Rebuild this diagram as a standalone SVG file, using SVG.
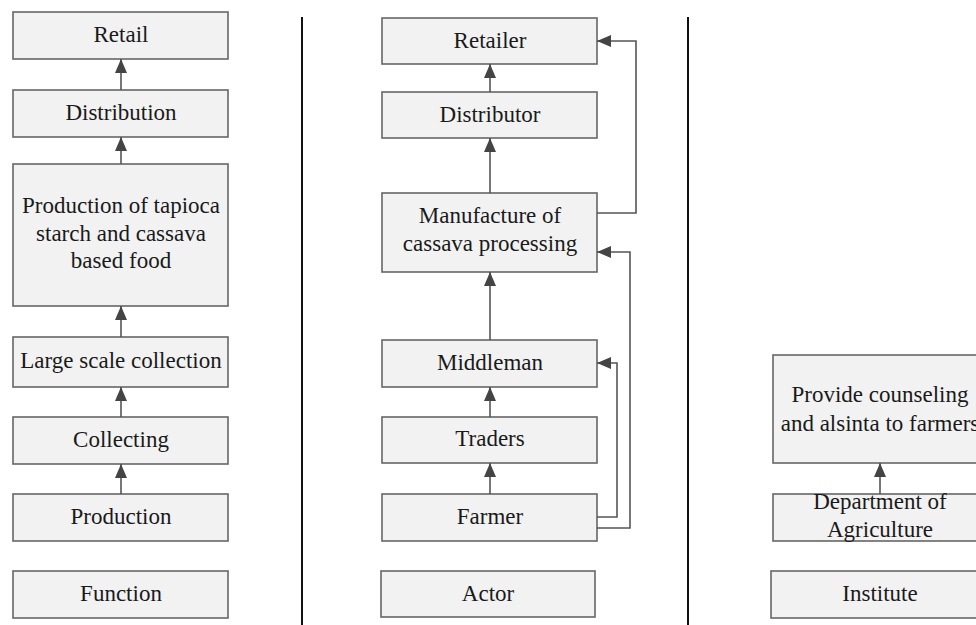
<svg xmlns="http://www.w3.org/2000/svg" width="976" height="625" viewBox="0 0 976 625">
<style>
.box{fill:#f2f2f2;stroke:#666;stroke-width:1.6}
.t{font-family:"Liberation Serif","Times New Roman",serif;font-size:23px;fill:#1a1a1a;text-anchor:middle}
.c{fill:none;stroke:#555;stroke-width:1.6}
.sep{stroke:#111;stroke-width:2}
</style>
<defs>
<marker id="ah" markerUnits="userSpaceOnUse" markerWidth="16" markerHeight="16" viewBox="0 0 16 16" refX="15" refY="8" orient="auto">
<path d="M1,2 L15,8 L1,14 Z" fill="#444"/>
</marker>
</defs>
<line class="sep" x1="302" y1="17" x2="302" y2="625"/>
<line class="sep" x1="688" y1="17" x2="688" y2="625"/>
<g id="retail"><rect class="box" x="13" y="12" width="215" height="47"/><text class="t" x="121" y="42">Retail</text></g>
<g id="distribution"><rect class="box" x="13" y="90" width="215" height="47"/><text class="t" x="121" y="120">Distribution</text></g>
<g id="production-tapioca"><rect class="box" x="13" y="164" width="215" height="142"/><text class="t" x="121" y="213">Production of tapioca</text><text class="t" x="121" y="241">starch and cassava</text><text class="t" x="121" y="268">based food</text></g>
<g id="large-scale"><rect class="box" x="13" y="337" width="215" height="50"/><text class="t" x="121" y="368">Large scale collection</text></g>
<g id="collecting"><rect class="box" x="13" y="417" width="215" height="47"/><text class="t" x="121" y="447">Collecting</text></g>
<g id="production"><rect class="box" x="13" y="494" width="215" height="47"/><text class="t" x="121" y="524">Production</text></g>
<g id="function"><rect class="box" x="13" y="571" width="215" height="47"/><text class="t" x="121" y="601">Function</text></g>
<g id="retailer"><rect class="box" x="382" y="18" width="215" height="46"/><text class="t" x="490" y="48">Retailer</text></g>
<g id="distributor"><rect class="box" x="382" y="92" width="215" height="46"/><text class="t" x="490" y="122">Distributor</text></g>
<g id="manufacture"><rect class="box" x="382" y="193" width="215" height="79"/><text class="t" x="490" y="223">Manufacture of</text><text class="t" x="490" y="251">cassava processing</text></g>
<g id="middleman"><rect class="box" x="382" y="340" width="215" height="47"/><text class="t" x="490" y="370">Middleman</text></g>
<g id="traders"><rect class="box" x="382" y="417" width="215" height="46"/><text class="t" x="490" y="446">Traders</text></g>
<g id="farmer"><rect class="box" x="382" y="494" width="215" height="47"/><text class="t" x="490" y="524">Farmer</text></g>
<g id="actor"><rect class="box" x="381" y="571" width="214" height="46"/><text class="t" x="488" y="601">Actor</text></g>
<g id="counseling"><rect class="box" x="773" y="355" width="215" height="108"/><text class="t" x="880" y="402">Provide counseling</text><text class="t" x="880" y="431">and alsinta to farmers</text></g>
<g id="department"><rect class="box" x="773" y="494" width="215" height="47"/><text class="t" x="880" y="509">Department of</text><text class="t" x="880" y="537">Agriculture</text></g>
<g id="institute"><rect class="box" x="771" y="571" width="215" height="47"/><text class="t" x="880" y="601">Institute</text></g>
<g id="connectors">
<line class="c" x1="121" y1="90" x2="121" y2="59" marker-end="url(#ah)"/>
<line class="c" x1="121" y1="164" x2="121" y2="137" marker-end="url(#ah)"/>
<line class="c" x1="121" y1="337" x2="121" y2="306" marker-end="url(#ah)"/>
<line class="c" x1="121" y1="417" x2="121" y2="387" marker-end="url(#ah)"/>
<line class="c" x1="121" y1="494" x2="121" y2="464" marker-end="url(#ah)"/>
<line class="c" x1="490" y1="92" x2="490" y2="64" marker-end="url(#ah)"/>
<line class="c" x1="490" y1="193" x2="490" y2="138" marker-end="url(#ah)"/>
<line class="c" x1="490" y1="340" x2="490" y2="272" marker-end="url(#ah)"/>
<line class="c" x1="490" y1="417" x2="490" y2="387" marker-end="url(#ah)"/>
<line class="c" x1="490" y1="494" x2="490" y2="463" marker-end="url(#ah)"/>
<polyline class="c" points="597,213 636,213 636,41 597,41" marker-end="url(#ah)"/>
<polyline class="c" points="597,528 630,528 630,252 597,252" marker-end="url(#ah)"/>
<polyline class="c" points="597,517 617,517 617,363 597,363" marker-end="url(#ah)"/>
<line class="c" x1="880" y1="494" x2="880" y2="463" marker-end="url(#ah)"/>
</g>
</svg>
